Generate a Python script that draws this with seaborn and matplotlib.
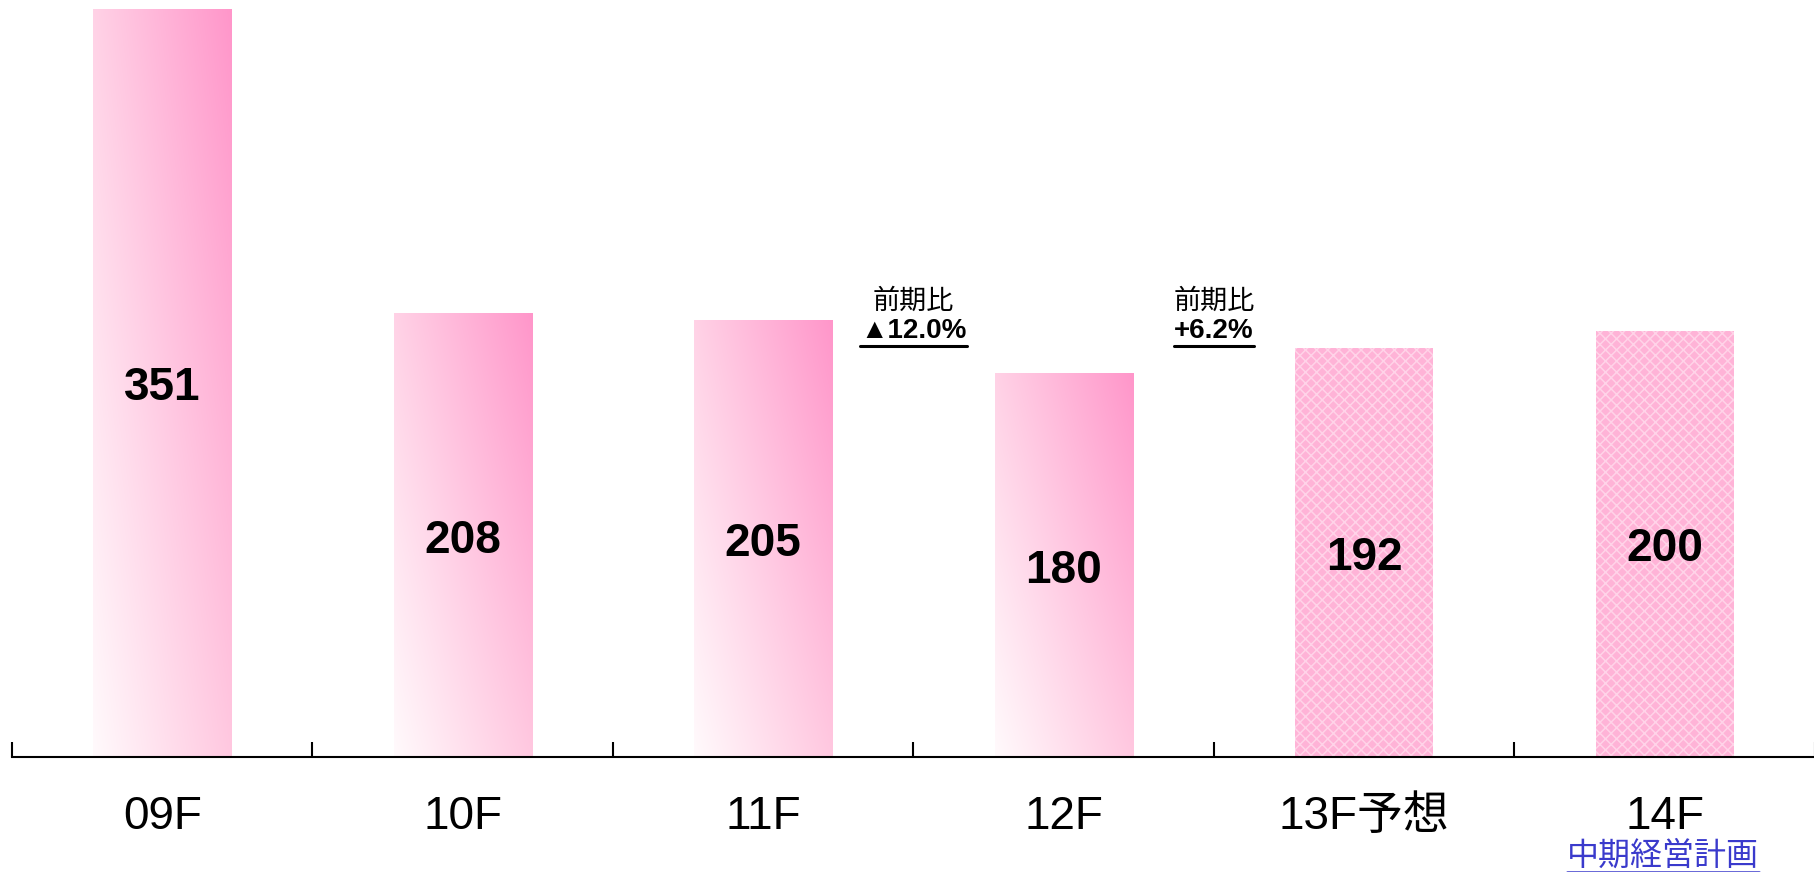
import numpy as np
import pandas as pd
import matplotlib
matplotlib.use('Agg')
import matplotlib.pyplot as plt
import seaborn as sns
from matplotlib.lines import Line2D
from matplotlib.transforms import offset_copy

categories = ['09F', '10F', '11F', '12F', '13F予想', '14F']
values = [351, 208, 205, 180, 192, 200]
is_plan = [False, False, False, False, True, True]
change_title = '前期比'
change_labels = ['▲12.0%', '+6.2%']
change_x = [2.5, 3.5]
plan_note = '中期経営計画'

sns.set_theme(style='white')
plt.rcParams['font.family'] = ['Liberation Sans', 'Noto Sans CJK JP']
plt.rcParams['hatch.linewidth'] = 1.1

W, H = 1815, 872
fig = plt.figure(figsize=(W / 100, H / 100), dpi=100)
ax = fig.add_axes([12 / W, 115 / H, 1 - 12 / W, 757 / H])

df = pd.DataFrame({'cat': categories, 'val': values})
sns.barplot(data=df, x='cat', y='val', ax=ax, width=0.46, color='#ff99cc',
            saturation=1, linewidth=0)
ax.set_xlim(-0.5, 5.5)
ax.set_ylim(0, 355)

# gradient: bottom-left almost white -> top-right pink
tl = np.array([255, 210, 230]) / 255
tr = np.array([255, 150, 202]) / 255
bl = np.array([255, 250, 252]) / 255
br = np.array([255, 200, 224]) / 255
gx = np.linspace(0, 1, 120)[None, :, None]
gy = np.linspace(0, 1, 200)[:, None, None]
grad = (1 - gy) * ((1 - gx) * tl + gx * tr) + gy * ((1 - gx) * bl + gx * br)

for patch, plan in zip(ax.patches, is_plan):
    x0, y0 = patch.get_x(), patch.get_y()
    w, h = patch.get_width(), patch.get_height()
    if plan:
        patch.set_facecolor('#ffb3d7')
        patch.set_edgecolor('#ffd3e8')
        patch.set_hatch('xxx')
        patch.set_linewidth(0)
    else:
        patch.set_facecolor('none')
        im = ax.imshow(grad, extent=[x0, x0 + w, y0, y0 + h], origin='upper',
                       aspect='auto', interpolation='bilinear', zorder=1)
        im.set_clip_path(patch)

shift_down = offset_copy(ax.transData, fig=fig, x=0, y=-4, units='points')
for i, v in enumerate(values):
    ax.text(i, v / 2, str(v), ha='center', va='center', fontsize=33,
            fontweight='bold', color='black', zorder=5, transform=shift_down)

ax.set_xlabel('')
ax.set_ylabel('')
ax.set_yticks([])
ax.set_xticks(range(len(categories)))
ax.set_xticklabels(categories, fontsize=33, color='black')
ax.tick_params(axis='x', which='major', length=0, pad=27)
ax.set_xticks(np.arange(-0.5, 6, 1), minor=True)
ax.tick_params(axis='x', which='minor', direction='in', length=11, width=1.5,
               color='black', bottom=True)
for s in ['left', 'top', 'right']:
    ax.spines[s].set_visible(False)
ax.spines['bottom'].set_color('black')
ax.spines['bottom'].set_linewidth(1.5)

px = 757 / 355
under_texts = []
for x, lab in zip(change_x, change_labels):
    ax.text(x, (757 - 301) / px, change_title, ha='center', va='center',
            fontsize=19.5, color='black',
            family=['Noto Sans CJK JP', 'Liberation Sans'])
    t = ax.text(x, (757 - 331) / px, lab, ha='center', va='center',
                fontsize=20, fontweight='bold', color='black')
    under_texts.append((t, 'black', 2.2, 2))

note = fig.text(1663 / W, (H - 856) / H, plan_note, ha='center', va='center',
                fontsize=23, color='#3a3acc', family=['Noto Sans CJK JP'])
under_texts.append((note, '#3a3acc', 1.8, 0))

fig.canvas.draw()
r = fig.canvas.get_renderer()
inv = fig.transFigure.inverted()
for t, c, lw, off in under_texts:
    bb = t.get_window_extent(r)
    (xa, ya), (xb, _) = inv.transform([(bb.x0, bb.y0 - off), (bb.x1, bb.y0)])
    fig.add_artist(Line2D([xa, xb], [ya, ya], transform=fig.transFigure,
                          color=c, linewidth=lw))

fig.savefig('out.png', dpi=100)
